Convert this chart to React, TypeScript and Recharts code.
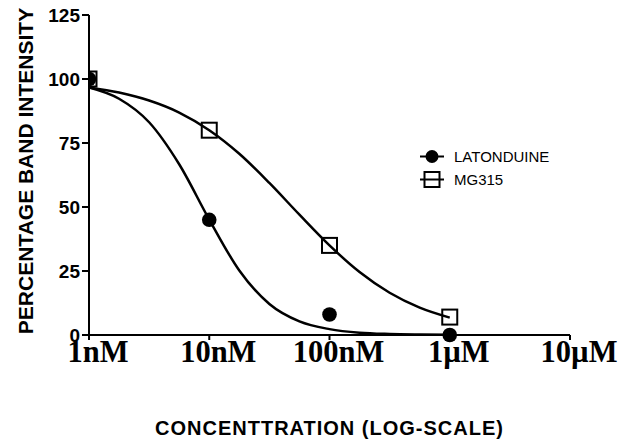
import React from 'react';
import { ComposedChart, Line, Scatter, XAxis, YAxis, Legend, Label } from 'recharts';

// concentrations in nM, x axis is log
const curveConc = [1, 1.778, 3.162, 5.623, 10, 17.78, 31.62, 56.23, 100, 177.8, 316.2, 562.3, 1000];
const latCurve = [96.7, 92.3, 83.1, 66.7, 45.1, 25.2, 12.1, 5.3, 2.3, 0.9, 0.4, 0.2, 0.1];
const mgCurve = [96.7, 94.7, 91.6, 86.9, 80.0, 70.8, 59.4, 47.0, 35.0, 24.6, 16.5, 10.7, 6.8];

const pointConc = [1, 10, 100, 1000];
const latPoints = [100, 45, 8, 0];
const mgPoints = [100, 80, 35, 7];

const xTicks = [1, 10, 100, 1000, 10000];
const xTickLabels = ['1nM', '10nM', '100nM', '1µM', '10µM'];
const yTicks = [0, 25, 50, 75, 100, 125];

const SANS = 'Liberation Sans, Arial, sans-serif';
const SERIF = 'Liberation Serif, Times New Roman, serif';

const latCurveData = curveConc.map((x, i) => ({ x, v: latCurve[i] }));
const mgCurveData = curveConc.map((x, i) => ({ x, v: mgCurve[i] }));
const latPointData = pointConc.map((x, i) => ({ x, v: latPoints[i] }));
const mgPointData = pointConc.map((x, i) => ({ x, v: mgPoints[i] }));

const CircleDot = (p: any) => <circle cx={p.cx} cy={p.cy} r={7.3} fill="#000" />;
const SquareDot = (p: any) => (
  <rect x={p.cx - 7.5} y={p.cy - 7.5} width={15} height={15} fill="none" stroke="#000" strokeWidth={2} />
);

const XTick = (props: any) => {
  const { x, y, payload } = props;
  const idx = xTicks.indexOf(payload.value);
  return (
    <text x={x + 9} y={y + 20} textAnchor="middle" fontFamily={SERIF} fontWeight="bold" fontSize={30.5} fill="#000">
      {xTickLabels[idx]}
    </text>
  );
};

const YTitle = () => (
  <text
    x={25}
    y={171}
    transform="rotate(-90 25 171)"
    textAnchor="middle"
    dominantBaseline="central"
    fontFamily={SANS}
    fontWeight="bold"
    fontSize={21}
    fill="#000"
  >
    PERCENTAGE BAND INTENSITY
  </text>
);

const renderLegend = () => (
  <div style={{ fontFamily: SANS, fontSize: 15, color: '#000' }}>
    {[
      { name: 'LATONDUINE', kind: 'circle' },
      { name: 'MG315', kind: 'square' },
    ].map((s) => (
      <div key={s.name} style={{ display: 'flex', alignItems: 'center', height: 23 }}>
        <svg width={26} height={23}>
          <line x1={1} y1={11.5} x2={25} y2={11.5} stroke="#000" strokeWidth={2} />
          {s.kind === 'circle' ? (
            <circle cx={13} cy={11.5} r={6.5} fill="#000" />
          ) : (
            <rect x={5.5} y={4} width={15} height={15} fill="none" stroke="#000" strokeWidth={2} />
          )}
        </svg>
        <span style={{ marginLeft: 9 }}>{s.name}</span>
      </div>
    ))}
  </div>
);

export default function App() {
  return (
    <div style={{ position: 'absolute', left: 0, top: 0, background: '#fff' }}>
      <ComposedChart width={618} height={444} margin={{ top: 15, right: 48, bottom: 0, left: 0 }}>
        <XAxis
          dataKey="x"
          type="number"
          scale="log"
          domain={[1, 10000]}
          ticks={xTicks}
          allowDataOverflow
          height={109}
          axisLine={{ stroke: '#000', strokeWidth: 2 }}
          tickLine={{ stroke: '#000', strokeWidth: 2 }}
          tickSize={5}
          tickMargin={2}
          tick={<XTick />}
        >
          <Label
            value="CONCENTTRATION  (LOG-SCALE)"
            position="insideBottom"
            offset={9}
            style={{ fontFamily: SANS, fontWeight: 'bold', fontSize: 20, fill: '#000', letterSpacing: 1, whiteSpace: 'pre' }}
          />
        </XAxis>
        <YAxis
          type="number"
          domain={[0, 125]}
          ticks={yTicks}
          width={89}
          axisLine={{ stroke: '#000', strokeWidth: 2 }}
          tickLine={{ stroke: '#000', strokeWidth: 2 }}
          tickSize={7}
          tickMargin={2}
          tick={{ fill: '#000', fontSize: 19, fontWeight: 'bold', fontFamily: SANS }}
        >
          <Label content={<YTitle />} />
        </YAxis>
        <Legend
          layout="horizontal"
          verticalAlign="middle"
          align="center"
          content={renderLegend}
          wrapperStyle={{ position: 'absolute', left: 419, top: 144.5, width: 'auto', height: 'auto' }}
        />
        <Line data={mgCurveData} dataKey="v" name="MG315 fit" type="monotone" stroke="#000" strokeWidth={2.5} dot={false} isAnimationActive={false} legendType="none" />
        <Line data={latCurveData} dataKey="v" name="LATONDUINE fit" type="monotone" stroke="#000" strokeWidth={2.5} dot={false} isAnimationActive={false} legendType="none" />
        <Scatter data={mgPointData} dataKey="v" name="MG315" shape={SquareDot} isAnimationActive={false} />
        <Scatter data={latPointData} dataKey="v" name="LATONDUINE" shape={CircleDot} isAnimationActive={false} />
      </ComposedChart>
    </div>
  );
}
